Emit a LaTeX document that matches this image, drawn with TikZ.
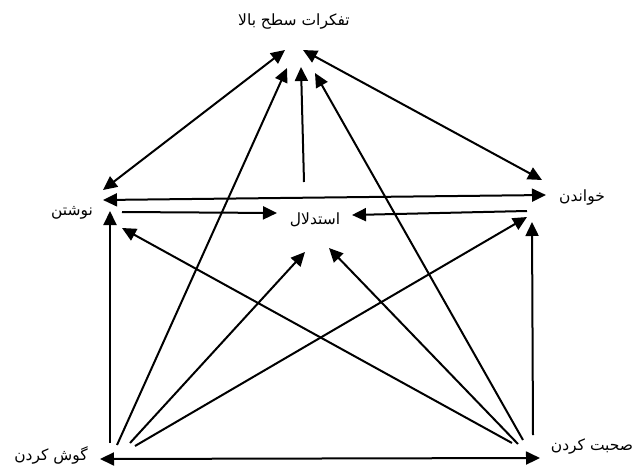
\documentclass[tikz,border=0pt]{standalone}
\usepackage{fontspec}
\newfontfamily\arabicfont[Script=Arabic]{DejaVu Sans}
\TeXXeTstate=1
\usetikzlibrary{arrows.meta}
\tikzset{
  lbl/.style={font=\arabicfont\fontsize{15.5}{18}\selectfont, inner sep=0pt},
  conn/.style={line width=2pt, -{Triangle[length=14pt,width=13pt]}},
  bconn/.style={line width=2pt, {Triangle[length=14pt,width=13pt]}-{Triangle[length=14pt,width=13pt]}}
}
\begin{document}
\begin{tikzpicture}[x=1pt,y=-1pt]
\useasboundingbox (0,0) rectangle (638,466);
% labels
\node[lbl] (top) at (294,22) {\beginR تفکرات سطح بالا\endR};
\node[lbl] (write) at (72,213) {\beginR نوشتن\endR};
\node[lbl] (reason) at (315,220) {\beginR استدلال\endR};
\node[lbl] (read) at (582,198) {\beginR خواندن\endR};
\node[lbl] (listen) at (51,455) {\beginR گوش کردن\endR};
\node[lbl] (speak) at (592,446) {\beginR صحبت کردن\endR};
% anchor points
\coordinate (tA) at (285,50);  \coordinate (wA) at (103,190);
\coordinate (tB) at (303,50);  \coordinate (rB) at (542,180);
\coordinate (wC) at (103,200); \coordinate (rC) at (546,195);
\coordinate (wD) at (122,212); \coordinate (cD) at (277,213);
\coordinate (rE) at (527,211); \coordinate (cE) at (352,215);
\coordinate (cF) at (304,182); \coordinate (tF) at (301,67);
\coordinate (lG) at (110,443); \coordinate (wG) at (110,211);
\coordinate (lH) at (117,445); \coordinate (tH) at (287,68);
\coordinate (lI) at (130,443); \coordinate (cI) at (305,252);
\coordinate (lJ) at (135,446); \coordinate (rJ) at (527,217);
\coordinate (lK) at (100,459); \coordinate (sK) at (540,458);
\coordinate (sL) at (533,435); \coordinate (rL) at (532,222);
\coordinate (sM) at (523,440); \coordinate (tM) at (315,73);
\coordinate (sN) at (518,444); \coordinate (cN) at (329,248);
\coordinate (sO) at (512,443); \coordinate (wO) at (122,228);
% connectors
\draw[bconn] (tA) -- (wA);
\draw[bconn] (tB) -- (rB);
\draw[bconn] (wC) -- (rC);
\draw[conn] (wD) -- (cD);
\draw[conn] (rE) -- (cE);
\draw[conn] (cF) -- (tF);
\draw[conn] (lG) -- (wG);
\draw[conn] (lH) -- (tH);
\draw[conn] (lI) -- (cI);
\draw[conn] (lJ) -- (rJ);
\draw[bconn] (lK) -- (sK);
\draw[conn] (sL) -- (rL);
\draw[conn] (sM) -- (tM);
\draw[conn] (sN) -- (cN);
\draw[conn] (sO) -- (wO);
\end{tikzpicture}
\end{document}
